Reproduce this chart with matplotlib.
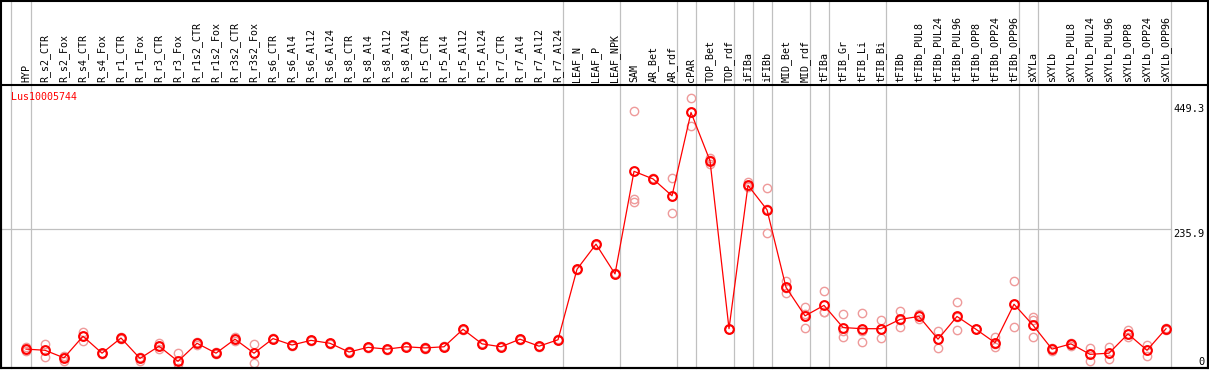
import matplotlib
matplotlib.use("Agg")
import matplotlib.pyplot as plt
from matplotlib.patches import Rectangle
import matplotlib.transforms as mtransforms

# sample names, in plotting order
samples = ["HYP", "R_s2_CTR", "R_s2_Fox", "R_s4_CTR", "R_s4_Fox", "R_r1_CTR", "R_r1_Fox",
           "R_r3_CTR", "R_r3_Fox", "R_r1s2_CTR", "R_r1s2_Fox", "R_r3s2_CTR", "R_r3s2_Fox",
           "R_s6_CTR", "R_s6_Al4", "R_s6_Al12", "R_s6_Al24", "R_s8_CTR", "R_s8_Al4",
           "R_s8_Al12", "R_s8_Al24", "R_r5_CTR", "R_r5_Al4", "R_r5_Al12", "R_r5_Al24",
           "R_r7_CTR", "R_r7_Al4", "R_r7_Al12", "R_r7_Al24", "LEAF_N", "LEAF_P", "LEAF_NPK",
           "SAM", "AR_Bet", "AR_rdf", "cPAR", "TOP_Bet", "TOP_rdf", "iFIBa", "iFIBb",
           "MID_Bet", "MID_rdf", "tFIBa", "tFIB_Gr", "tFIB_Li", "tFIB_Bi", "tFIBb",
           "tFIBb_PUL8", "tFIBb_PUL24", "tFIBb_PUL96", "tFIBb_OPP8", "tFIBb_OPP24",
           "tFIBb_OPP96", "sXYLa", "sXYLb", "sXYLb_PUL8", "sXYLb_PUL24", "sXYLb_PUL96",
           "sXYLb_OPP8", "sXYLb_OPP24", "sXYLb_OPP96"]

# mean expression per sample
means = [29, 27, 14, 51, 22, 48, 13, 34, 8, 39, 22, 46, 22, 47, 36, 44, 39, 24, 32, 29,
         33, 31, 33, 63, 38, 33, 46, 34, 45, 166, 209, 158, 334, 321, 292, 435, 352, 64,
         310, 268, 135, 86, 104, 66, 64, 64, 80, 85, 46, 85, 63, 40, 106, 70, 29, 38, 20,
         22, 55, 27, 64]

# replicate values per sample
reps = [[32, 26, 29], [37, 16, 28], [17, 9, 15], [59, 43, 51], [23, 20, 22], [49, 47, 48],
        [16, 9, 13], [39, 29, 34], [22, -3, 4], [42, 36, 39], [24, 20, 22], [49, 43, 46],
        [37, 6, 22], [48, 47, 47], [36, 35, 36], [45, 43, 44], [40, 38, 39], [25, 23, 24],
        [33, 31, 32], [30, 28, 29], [34, 32, 33], [32, 30, 31], [34, 32, 33], [64, 62, 63],
        [39, 37, 38], [34, 32, 33], [47, 45, 46], [35, 33, 34], [46, 44, 45],
        [167, 165, 166], [210, 208, 209], [159, 157, 158], [437, 286, 281], [322, 320, 321],
        [322, 262, 292], [459, 435, 411], [356, 346, 353], [64, 63, 64], [316, 308, 307],
        [305, 229, 270], [146, 125, 134], [102, 66, 90], [129, 92, 92], [89, 49, 60],
        [91, 41, 60], [79, 48, 64], [94, 67, 79], [90, 80, 85], [60, 31, 47],
        [109, 62, 84], [63, 63, 63], [49, 33, 38], [145, 67, 106], [84, 49, 79],
        [31, 26, 29], [40, 35, 38], [31, 9, 20], [33, 12, 22], [62, 49, 55], [36, 18, 27],
        [66, 62, 64]]

gene = "Lus10005744"
scale_ticks = [449.3, 235.9, 0]
# group separators sit just after these sample indices
separators = [-1.05, 0, 28, 31, 34, 35, 37, 38, 39, 41, 42, 45, 52, 53, 60]

W, H = 1209, 370
fig = plt.figure(figsize=(W / 100, H / 100), dpi=100)
# plot box in pixels: x 1..1208, y 85..368 (from top)
ax = fig.add_axes([1 / W, (H - 368) / H, 1207 / W, 283 / H])
ax.set_xlim(-1.316, 62.21)
ax.set_ylim(-3.43, 482.1)
ax.set_xticks([])
ax.set_yticks([])
for s in ax.spines.values():
    s.set_linewidth(1.5)
    s.set_color("black")

grey = "#c0c0c0"
top_ext = 368 / 283
for s in separators:
    ax.axvline(s + 0.25, ymin=0, ymax=top_ext, color=grey, lw=0.9, clip_on=False, zorder=1)
ax.plot([-1.316, 60.25], [235.9, 235.9], color=grey, lw=0.9, zorder=1)

x = list(range(len(samples)))
for i, r in enumerate(reps):
    ax.plot([i] * len(r), r, linestyle="none", marker="o", ms=6, mfc="none",
            mec="#ee9a9a", mew=1.0, zorder=2, clip_on=True)
ax.plot(x, means, color="red", lw=0.9, marker="o", ms=6.3, mfc="none", mec="red",
        mew=1.5, zorder=3)

# rotated sample names above the plot box
trans = mtransforms.blended_transform_factory(ax.transData, ax.transAxes)
for i, name in enumerate(samples):
    ax.text(i, 1 + 3 / 283, name, transform=trans, rotation=90, ha="center", va="bottom",
            family="DejaVu Sans Mono", fontsize=7.2, clip_on=False)

ax.text(10 / 1207, 1 - 7 / 283, gene, transform=ax.transAxes, color="red",
        family="DejaVu Sans Mono", fontsize=7.2, ha="left", va="top")

tr2 = mtransforms.blended_transform_factory(ax.transAxes, ax.transData)
for v in scale_ticks:
    va = "bottom" if v == 0 else "top"
    yv = v - 1 if v == 0 else v
    ax.text(1 - 3 / 1207, yv, f"{v:g}", transform=tr2, ha="right", va=va,
            family="DejaVu Sans Mono", fontsize=7.5)

# outer frame of the whole picture
fig.patches.append(Rectangle((1 / W, (H - 368) / H), 1207 / W, 367 / H,
                             transform=fig.transFigure, fill=False, lw=1.5,
                             edgecolor="black"))

fig.savefig("out.png", dpi=100)
